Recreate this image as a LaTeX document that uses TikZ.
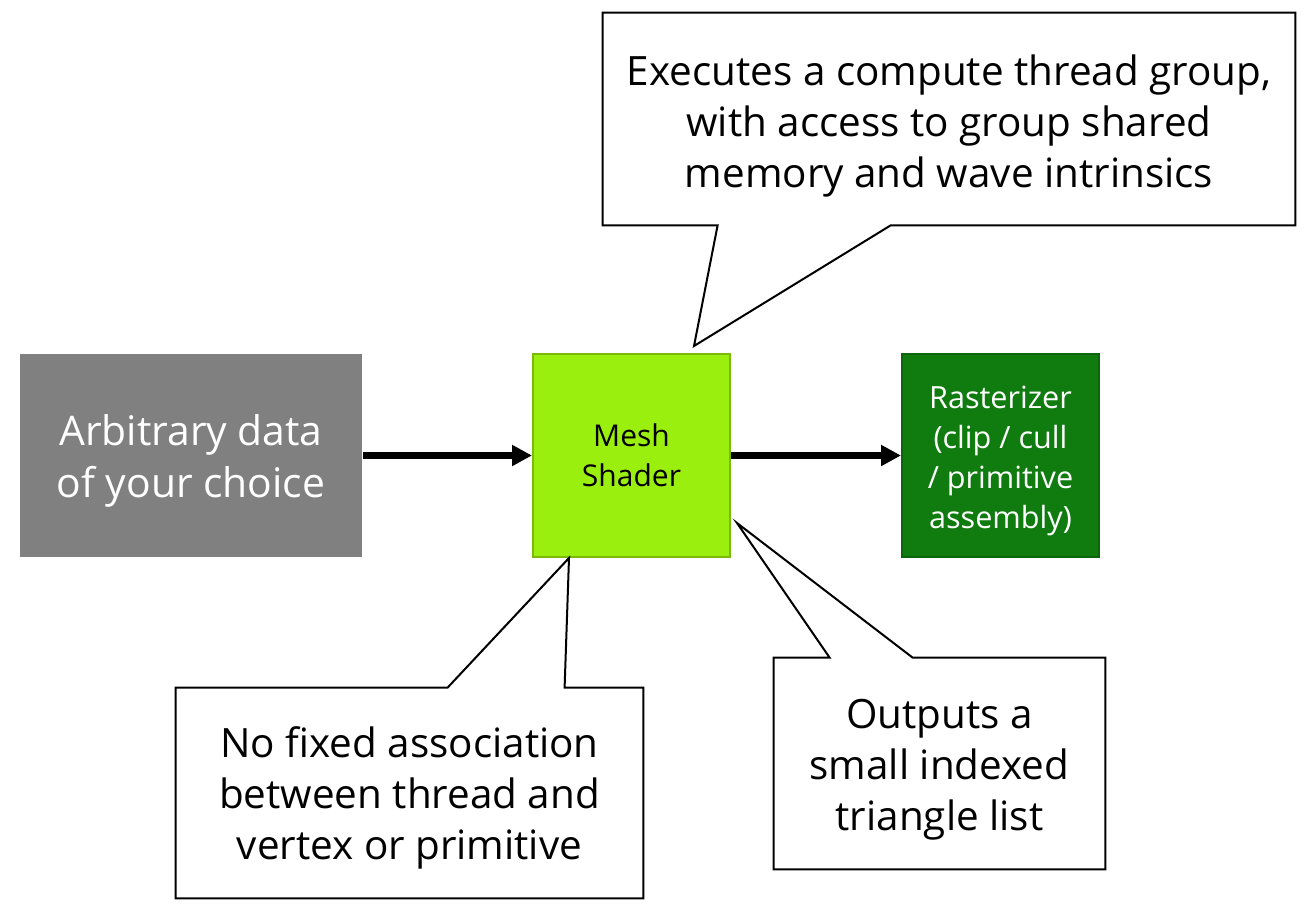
\documentclass[tikz,border=0pt]{standalone}
\usepackage{fontspec}
\setmainfont{Open Sans}
\usetikzlibrary{positioning,calc,arrows.meta}

\definecolor{datagray}{HTML}{808080}
\definecolor{meshgreen}{HTML}{9BEF0F}
\definecolor{meshborder}{HTML}{7CBA0A}
\definecolor{rastgreen}{HTML}{107C10}
\definecolor{rastborder}{HTML}{0C640C}

\tikzset{
  stage/.style={rectangle, minimum width=98.5pt, minimum height=101.5pt, inner sep=0pt, align=center, line width=1pt},
  flow/.style={-{Triangle[length=10pt,width=10pt]}, line width=3.5pt},
  note/.style={rectangle, inner sep=0pt, align=center, font=\fontsize{20.2}{25.5}\selectfont},
  bubble/.style={draw=black, line width=1pt, line join=miter}
}

\begin{document}
\begin{tikzpicture}[x=0.5pt, y=-0.5pt]
\useasboundingbox (0,0) rectangle (1306,916);

\node (data) [stage, fill=datagray, minimum width=171pt] at (191,455.5) {};
\node (datatext) [note, text=white, font=\fontsize{20.4}{26}\selectfont] at ($(data)+(0,5)$) {Arbitrary data\\of your choice};

\node (mesh) [stage, fill=meshgreen, draw=meshborder, right=84.5pt of data, font=\fontsize{15}{20}\selectfont] {Mesh\\Shader};

\node (rast) [stage, fill=rastgreen, draw=rastborder, right=85pt of mesh] {};
\node (rasttext) [note, text=white, font=\fontsize{15.3}{20}\selectfont] at ($(rast)+(0,5)$) {Rasterizer\\(clip / cull\\/ primitive\\assembly)};

\draw[flow] (data) -- (mesh);
\draw[flow] (mesh) -- (rast);

% callouts
\node (exec) [note, minimum width=346pt, minimum height=106pt] at (949,119) {};
\node (exectext) [note] at ($(exec)+(0,7)$) {Executes a compute thread group,\\with access to group shared\\memory and wave intrinsics};
\coordinate (exectip) at (694,346);
\draw[bubble] (exec.south west) -- (exec.north west) -- (exec.north east) -- (exec.south east) -- ($(exec.south west)+(288,0)$) -- (exectip) -- ($(exec.south west)+(115,0)$) -- cycle;

\node (nofixed) [note, minimum width=233.5pt, minimum height=105pt] at (409.5,793) {};
\node (nofixedtext) [note] at ($(nofixed)+(0,5)$) {No fixed association\\between thread and\\vertex or primitive};
\coordinate (nofixedtip) at (569,558);
\draw[bubble] (nofixed.north west) -- ($(nofixed.north west)+(272,0)$) -- (nofixedtip) -- ($(nofixed.north west)+(389,0)$) -- (nofixed.north east) -- (nofixed.south east) -- (nofixed.south west) -- cycle;

\node (outputs) [note, minimum width=165.5pt, minimum height=105.5pt] at (939.5,763.5) {};
\node (outputstext) [note] at ($(outputs)+(0,6)$) {Outputs a\\small indexed\\triangle list};
\coordinate (outputstip) at (737,523);
\draw[bubble] (outputs.north west) -- ($(outputs.north west)+(56,0)$) -- (outputstip) -- ($(outputs.north west)+(139,0)$) -- (outputs.north east) -- (outputs.south east) -- (outputs.south west) -- cycle;

\end{tikzpicture}
\end{document}
